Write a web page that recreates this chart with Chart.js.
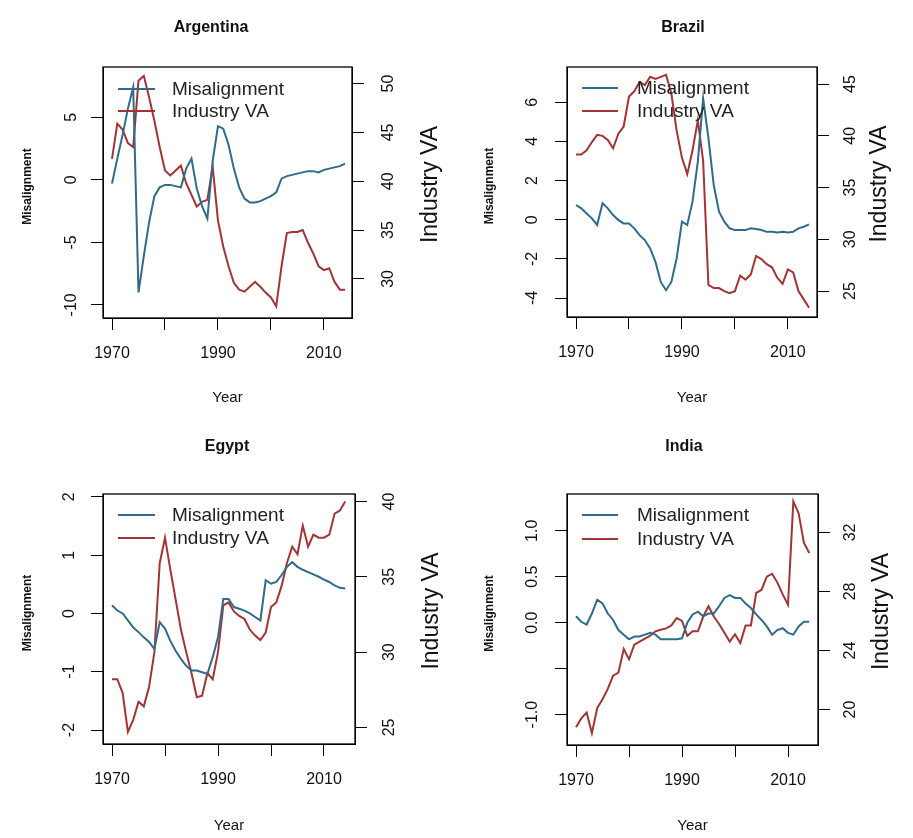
<!DOCTYPE html>
<html>
<head>
<meta charset="utf-8">
<script src="https://cdn.jsdelivr.net/npm/chart.js@4.4.1/dist/chart.umd.min.js"></script>
<style>
  body { margin: 0; background: #fff; }
  #wrap { position: relative; width: 913px; height: 838px; }
  #wrap canvas { position: absolute; left: 0; top: 0; }
</style>
</head>
<body>
<div id="wrap">
  <canvas id="c0" width="913" height="838"></canvas>
  <canvas id="c1" width="913" height="838"></canvas>
  <canvas id="c2" width="913" height="838"></canvas>
  <canvas id="c3" width="913" height="838"></canvas>
</div>
<script>
const W = 913, H = 838;
const BLUE = '#2f6b8c';
const RED = '#a53333';
const FONT = '"Liberation Sans", Arial, sans-serif';

const years = [1970, 1971, 1972, 1973, 1974, 1975, 1976, 1977, 1978, 1979,
               1980, 1981, 1982, 1983, 1984, 1985, 1986, 1987, 1988, 1989,
               1990, 1991, 1992, 1993, 1994, 1995, 1996, 1997, 1998, 1999,
               2000, 2001, 2002, 2003, 2004, 2005, 2006, 2007, 2008, 2009,
               2010, 2011, 2012, 2013, 2014];
const xTicks = [1970, 1980, 1990, 2000, 2010];
const xTickLabels = ['1970', '', '1990', '', '2010'];

// Argentina
const argMisalignment = [-0.3, 1.7, 3.6, 5.7, 7.4, -9.0, -6.1, -3.4, -1.3, -0.6,
                         -0.4, -0.4, -0.5, -0.6, 0.9, 1.7, -0.7, -2.1, -3.1, 1.5,
                         4.3, 4.1, 2.8, 0.9, -0.6, -1.5, -1.8, -1.8, -1.7, -1.5,
                         -1.3, -1.0, 0.1, 0.3, 0.4, 0.5, 0.6, 0.7, 0.7, 0.6,
                         0.8, 0.9, 1.0, 1.1, 1.3];
const argIndustryVA = [42.3, 45.9, 45.3, 43.9, 43.5, 50.3, 50.8, 48.6, 46.2, 43.5,
                       41.1, 40.6, 41.1, 41.6, 39.8, 38.6, 37.4, 37.9, 38.1, 41.5,
                       36.0, 33.3, 31.3, 29.6, 28.9, 28.7, 29.2, 29.7, 29.2, 28.6,
                       28.1, 27.2, 31.3, 34.7, 34.8, 34.8, 35.0, 33.7, 32.6, 31.3,
                       30.9, 31.1, 29.7, 28.9, 28.9];
const argLeftTicks = [-10, -5, 0, 5];
const argLeftLabels = ['-10', '-5', '0', '5'];
const argRightTicks = [30, 35, 40, 45, 50];
const argRightLabels = ['30', '35', '40', '45', '50'];

// Brazil
const braMisalignment = [0.75, 0.58, 0.32, 0.07, -0.27, 0.84, 0.58, 0.24, -0.02, -0.19,
                         -0.19, -0.44, -0.79, -1.04, -1.47, -2.15, -3.18, -3.6, -3.18, -1.98,
                         -0.1, -0.27, 0.92, 2.97, 6.2, 4.17, 1.78, 0.41, -0.1, -0.44,
                         -0.53, -0.53, -0.53, -0.44, -0.48, -0.53, -0.62, -0.62, -0.65, -0.62,
                         -0.65, -0.62, -0.44, -0.36, -0.24];
const braIndustryVA = [38.2, 38.2, 38.6, 39.4, 40.1, 40.0, 39.6, 38.8, 40.2, 40.9,
                       43.8, 44.3, 45.2, 44.9, 45.7, 45.5, 45.7, 45.9, 44.1, 40.5,
                       37.9, 36.3, 38.6, 41.5, 37.6, 25.6, 25.3, 25.3, 25.0, 24.8,
                       25.0, 26.5, 26.1, 26.6, 28.4, 28.1, 27.6, 27.3, 26.3, 25.7,
                       27.1, 26.8, 25.0, 24.2, 23.4];
const braLeftTicks = [-4, -2, 0, 2, 4, 6];
const braLeftLabels = ['-4', '-2', '0', '2', '4', '6'];
const braRightTicks = [25, 30, 35, 40, 45];
const braRightLabels = ['25', '30', '35', '40', '45'];

// Egypt
const egyMisalignment = [0.14, 0.05, 0.0, -0.12, -0.24, -0.32, -0.41, -0.49, -0.61, -0.15,
                         -0.26, -0.47, -0.64, -0.78, -0.9, -0.98, -0.98, -1.01, -1.04, -0.75,
                         -0.41, 0.25, 0.25, 0.11, 0.08, 0.05, 0.0, -0.06, -0.12, 0.57,
                         0.51, 0.54, 0.66, 0.80, 0.88, 0.80, 0.75, 0.71, 0.67, 0.63,
                         0.58, 0.54, 0.48, 0.44, 0.43];
const egyIndustryVA = [28.2, 28.2, 27.3, 24.7, 25.5, 26.7, 26.4, 27.7, 30.0, 35.9,
                       37.6, 35.5, 33.5, 31.5, 30.0, 28.6, 27.0, 27.1, 28.6, 28.2,
                       30.0, 33.1, 33.3, 32.7, 32.4, 32.2, 31.5, 31.1, 30.8, 31.3,
                       33.0, 33.3, 34.4, 35.9, 37.0, 36.5, 38.4, 37.0, 37.8, 37.6,
                       37.6, 37.8, 39.2, 39.4, 40.0];
const egyLeftTicks = [-2, -1, 0, 1, 2];
const egyLeftLabels = ['-2', '-1', '0', '1', '2'];
const egyRightTicks = [25, 30, 35, 40];
const egyRightLabels = ['25', '30', '35', '40'];

// India
const indMisalignment = [0.07, 0.01, -0.02, 0.1, 0.25, 0.21, 0.1, 0.03, -0.08, -0.13,
                         -0.18, -0.15, -0.15, -0.13, -0.11, -0.13, -0.18, -0.18, -0.18, -0.18,
                         -0.17, 0.0, 0.09, 0.12, 0.07, 0.10, 0.10, 0.18, 0.27, 0.30,
                         0.27, 0.27, 0.21, 0.16, 0.09, 0.03, -0.04, -0.13, -0.08, -0.06,
                         -0.11, -0.13, -0.04, 0.01, 0.01];
const indIndustryVA = [18.8, 19.4, 19.8, 18.4, 20.1, 20.7, 21.4, 22.3, 22.5, 24.1,
                       23.4, 24.4, 24.6, 24.8, 25.0, 25.3, 25.4, 25.5, 25.7, 26.2,
                       26.0, 25.0, 25.3, 25.3, 26.3, 27.0, 26.3, 25.8, 25.2, 24.6,
                       25.1, 24.5, 25.7, 25.7, 27.9, 28.1, 29.0, 29.2, 28.6, 27.8,
                       27.1, 34.1, 33.3, 31.3, 30.6];
const indLeftTicks = [-1.0, -0.5, 0.0, 0.5, 1.0];
const indLeftLabels = ['-1.0', '', '0.0', '0.5', '1.0'];
const indRightTicks = [20, 24, 28, 32];
const indRightLabels = ['20', '24', '28', '32'];

const panels = [
  { title: 'Argentina', mis: argMisalignment, ind: argIndustryVA,
    leftTicks: argLeftTicks, leftLabels: argLeftLabels, rightTicks: argRightTicks, rightLabels: argRightLabels,
    box: { l: 103, t: 67, r: 352, b: 318 }, xr: [1968.3, 2015.3], yl: [-11.05, 9.03], yr: [26.0, 51.7],
    titleX: 211, titleY: 28, leftX: 72, rightX: 389, misX: 28, indX: 431, yearY: 398,
    leg: { x1: 118, x2: 155, y1: 89, y2: 111, tx: 172 } },
  { title: 'Brazil', mis: braMisalignment, ind: braIndustryVA,
    leftTicks: braLeftTicks, leftLabels: braLeftLabels, rightTicks: braRightTicks, rightLabels: braRightLabels,
    box: { l: 567, t: 67, r: 817, b: 317 }, xr: [1968.3, 2015.5], yl: [-4.97, 7.8], yr: [22.5, 46.65],
    titleX: 683, titleY: 28, leftX: 533, rightX: 851, misX: 490, indX: 880, yearY: 398,
    leg: { x1: 582, x2: 618, y1: 88, y2: 111, tx: 637 } },
  { title: 'Egypt', mis: egyMisalignment, ind: egyIndustryVA,
    leftTicks: egyLeftTicks, leftLabels: egyLeftLabels, rightTicks: egyRightTicks, rightLabels: egyRightLabels,
    box: { l: 103, t: 494, r: 355, b: 744 }, xr: [1968.3, 2015.85], yl: [-2.24, 2.05], yr: [23.9, 40.5],
    titleX: 227, titleY: 447, leftX: 70, rightX: 390, misX: 28, indX: 432, yearY: 826,
    leg: { x1: 118, x2: 155, y1: 515, y2: 538, tx: 172 } },
  { title: 'India', mis: indMisalignment, ind: indIndustryVA,
    leftTicks: indLeftTicks, leftLabels: indLeftLabels, rightTicks: indRightTicks, rightLabels: indRightLabels,
    box: { l: 567, t: 494, r: 818, b: 745 }, xr: [1968.3, 2015.66], yl: [-1.33, 1.40], yr: [17.6, 34.6],
    titleX: 684, titleY: 447, leftX: 533, rightX: 851, misX: 490, indX: 882, yearY: 826,
    leg: { x1: 582, x2: 618, y1: 515, y2: 539, tx: 637 } }
];

function rotText(ctx, text, x, y, font) {
  ctx.save();
  ctx.translate(x, y);
  ctx.rotate(-Math.PI / 2);
  ctx.font = font;
  ctx.textAlign = 'center';
  ctx.textBaseline = 'middle';
  ctx.fillText(text, 0, 0);
  ctx.restore();
}

function decor(p) {
  return {
    id: 'decor',
    afterDraw(chart) {
      const ctx = chart.ctx, a = chart.chartArea;
      ctx.save();
      ctx.strokeStyle = '#000';
      ctx.lineWidth = 1.3;
      ctx.strokeRect(a.left, a.top, a.right - a.left, a.bottom - a.top);
      ctx.fillStyle = '#111';

      ctx.font = 'bold 16px ' + FONT;
      ctx.textAlign = 'center';
      ctx.textBaseline = 'middle';
      ctx.fillText(p.title, p.titleX, p.titleY);

      ctx.font = '15px ' + FONT;
      ctx.fillText('Year', (a.left + a.right) / 2, p.yearY);

      const yl = chart.scales.y, yr = chart.scales.y2;
      yl.ticks.forEach((t, i) => {
        if (p.leftLabels[i]) rotText(ctx, p.leftLabels[i], p.leftX, yl.getPixelForValue(t.value), '16px ' + FONT);
      });
      yr.ticks.forEach((t, i) => {
        if (p.rightLabels[i]) rotText(ctx, p.rightLabels[i], p.rightX, yr.getPixelForValue(t.value), '16px ' + FONT);
      });

      const midY = (a.top + a.bottom) / 2;
      rotText(ctx, 'Misalignment', p.misX, midY - 6, 'bold 12px ' + FONT);
      rotText(ctx, 'Industry VA', p.indX, midY - 8, '23px ' + FONT);

      // legend inside plot, top-left
      const lg = p.leg;
      ctx.lineWidth = 2;
      ctx.strokeStyle = BLUE;
      ctx.beginPath(); ctx.moveTo(lg.x1, lg.y1); ctx.lineTo(lg.x2, lg.y1); ctx.stroke();
      ctx.strokeStyle = RED;
      ctx.beginPath(); ctx.moveTo(lg.x1, lg.y2); ctx.lineTo(lg.x2, lg.y2); ctx.stroke();
      ctx.font = '19px ' + FONT;
      ctx.textAlign = 'left';
      ctx.fillStyle = '#222';
      ctx.fillText('Misalignment', lg.tx, lg.y1 + 1);
      ctx.fillText('Industry VA', lg.tx, lg.y2 + 1);
      ctx.restore();
    }
  };
}

function axisBase() {
  return {
    bounds: 'data',
    grid: { display: true, drawOnChartArea: false, drawTicks: true, tickLength: 12, color: '#000', lineWidth: 1 },
    border: { display: true, color: '#000', width: 1 }
  };
}

panels.forEach((p, k) => {
  new Chart(document.getElementById('c' + k), {
    type: 'line',
    data: {
      datasets: [
        { label: 'Misalignment', data: years.map((yr, i) => ({ x: yr, y: p.mis[i] })), yAxisID: 'y',
          borderColor: BLUE, borderWidth: 2, pointRadius: 0, tension: 0, fill: false },
        { label: 'Industry VA', data: years.map((yr, i) => ({ x: yr, y: p.ind[i] })), yAxisID: 'y2',
          borderColor: RED, borderWidth: 2, pointRadius: 0, tension: 0, fill: false }
      ]
    },
    options: {
      responsive: false,
      animation: false,
      devicePixelRatio: 1,
      layout: { padding: { top: p.box.t, left: 0, right: 0, bottom: 0 } },
      plugins: { legend: { display: false }, tooltip: { enabled: false } },
      scales: {
        x: Object.assign(axisBase(), {
          type: 'linear', position: 'bottom', min: p.xr[0], max: p.xr[1],
          afterBuildTicks: s => { s.ticks = xTicks.map(v => ({ value: v })); },
          afterFit: s => { s.height = H - p.box.b; },
          ticks: { autoSkip: false, maxRotation: 0, padding: 14, color: '#111',
                   font: { family: FONT, size: 16 },
                   callback: v => xTickLabels[xTicks.indexOf(v)] || '' }
        }),
        y: Object.assign(axisBase(), {
          type: 'linear', position: 'left', min: p.yl[0], max: p.yl[1],
          afterBuildTicks: s => { s.ticks = p.leftTicks.map(v => ({ value: v })); },
          afterFit: s => { s.width = p.box.l; },
          ticks: { display: false }
        }),
        y2: Object.assign(axisBase(), {
          type: 'linear', position: 'right', min: p.yr[0], max: p.yr[1],
          afterBuildTicks: s => { s.ticks = p.rightTicks.map(v => ({ value: v })); },
          afterFit: s => { s.width = W - p.box.r; },
          ticks: { display: false }
        })
      }
    },
    plugins: [decor(p)]
  });
});
</script>
</body>
</html>
